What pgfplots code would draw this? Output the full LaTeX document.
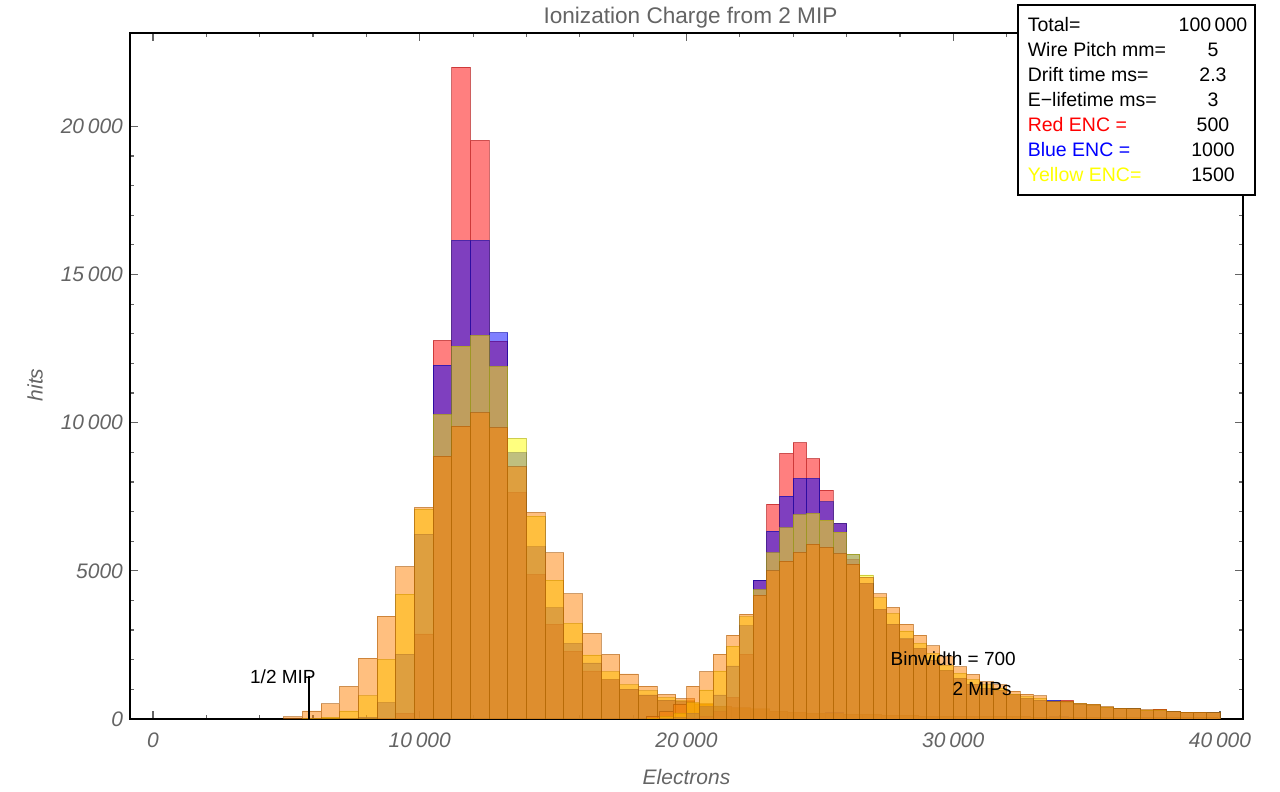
\documentclass[border=0pt]{standalone}
\usepackage{pgfplots}
\pgfplotsset{compat=1.18}
\usepackage{fontspec}
\setmainfont{Liberation Sans}
\definecolor{tickgray}{RGB}{100,100,100}
\definecolor{hred}{RGB}{255,0,0}
\definecolor{hblue}{RGB}{0,0,255}
\definecolor{hyellow}{RGB}{255,255,0}
\definecolor{horange}{RGB}{255,128,0}
\newcommand{\ts}{\hspace{0.18em}}
\begin{document}
\begin{tikzpicture}
\useasboundingbox (0pt,0pt) rectangle (640pt,396pt);
\begin{axis}[
  at={(65pt,36.5pt)}, anchor=south west,
  scale only axis, width=556.5pt, height=343pt,
  xmin=-862, xmax=40862, ymin=0, ymax=23150,
  scaled ticks=false,
  axis line style={black, line width=0.9pt},
  every tick/.style={tickgray, line width=0.6pt},
  major tick length=3.8pt, minor tick length=2.2pt,
  tick align=inside,
  xtick={0,10000,20000,30000,40000},
  xticklabels={0,10\ts000,20\ts000,30\ts000,40\ts000},
  minor x tick num=4,
  ytick={0,5000,10000,15000,20000},
  yticklabels={0,5000,10\ts000,15\ts000,20\ts000},
  minor y tick num=4,
  ticklabel style={font=\fontsize{10.5}{12}\selectfont\itshape, text=tickgray},
  xticklabel style={anchor=center, yshift=-10.5pt},
  xlabel={Electrons}, ylabel={hits},
  every axis x label/.style={at={(axis description cs:0.5,0)}, anchor=center, yshift=-29pt, font=\fontsize{10.5}{12}\selectfont\itshape, text=tickgray},
  every axis y label/.style={at={(axis description cs:0,0.5)}, anchor=center, xshift=-47.5pt, yshift=-4.5pt, rotate=90, font=\fontsize{10.5}{12}\selectfont\itshape, text=tickgray},
  title={Ionization Charge from 2 MIP},
  every axis title/.style={at={(axis description cs:0.5,1)}, anchor=center, xshift=2pt, yshift=7.5pt, font=\fontsize{11.3}{13}\selectfont, text=tickgray},
  hist/.style={ybar interval, fill=#1, fill opacity=0.5, draw=#1!65!black, draw opacity=0.55, line width=0.45pt},
]
% ---- 1 MIP histograms, binwidth 700 ----
\addplot[hist=hred] coordinates {(8400,20)(9100,190)(9800,2870)(10500,12780)(11200,22000)(11900,19530)(12600,12750)(13300,7650)(14000,4880)(14700,3200)(15400,2290)(16100,1620)(16800,1320)(17500,1010)(18200,810)(18900,640)(19600,580)(20300,480)(21000,420)(21700,360)(22400,320)(23100,270)(23800,220)(24500,190)(25200,200)(25900,160)(26600,150)(27300,120)(28000,120)(28700,100)(29400,90)(30100,80)(30800,80)(31500,70)(32200,70)(32900,60)(33600,60)(34300,60)(35000,50)(35700,50)(36400,50)(37100,40)(37800,40)(38500,40)(39200,40)(39900,0)};
\addplot[hist=hblue] coordinates {(7000,10)(7700,60)(8400,550)(9100,2190)(9800,6240)(10500,11940)(11200,16150)(11900,16150)(12600,13040)(13300,8980)(14000,5810)(14700,3750)(15400,2550)(16100,1890)(16800,1320)(17500,1010)(18200,810)(18900,640)(19600,580)(20300,480)(21000,420)(21700,360)(22400,330)(23100,260)(23800,220)(24500,190)(25200,230)(25900,160)(26600,150)(27300,120)(28000,110)(28700,100)(29400,90)(30100,80)(30800,80)(31500,70)(32200,70)(32900,60)(33600,70)(34300,60)(35000,50)(35700,50)(36400,50)(37100,40)(37800,40)(38500,40)(39200,40)(39900,0)};
\addplot[hist=hyellow] coordinates {(5600,10)(6300,60)(7000,270)(7700,780)(8400,2010)(9100,4210)(9800,7080)(10500,10280)(11200,12580)(11900,12950)(12600,11900)(13300,9470)(14000,6850)(14700,4690)(15400,3230)(16100,2160)(16800,1590)(17500,1150)(18200,950)(18900,720)(19600,610)(20300,500)(21000,430)(21700,370)(22400,330)(23100,260)(23800,230)(24500,190)(25200,200)(25900,160)(26600,160)(27300,120)(28000,110)(28700,100)(29400,90)(30100,80)(30800,80)(31500,70)(32200,70)(32900,60)(33600,60)(34300,60)(35000,50)(35700,50)(36400,50)(37100,40)(37800,40)(38500,40)(39200,40)(39900,0)};
\addplot[hist=horange] coordinates {(4900,70)(5600,270)(6300,510)(7000,1100)(7700,2050)(8400,3470)(9100,5140)(9800,7140)(10500,8870)(11200,9880)(11900,10340)(12600,9830)(13300,8510)(14000,6970)(14700,5610)(15400,4220)(16100,2890)(16800,2180)(17500,1520)(18200,1110)(18900,830)(19600,690)(20300,510)(21000,440)(21700,380)(22400,340)(23100,260)(23800,220)(24500,190)(25200,200)(25900,160)(26600,150)(27300,120)(28000,120)(28700,100)(29400,90)(30100,80)(30800,80)(31500,70)(32200,70)(32900,60)(33600,60)(34300,60)(35000,50)(35700,50)(36400,50)(37100,40)(37800,40)(38500,40)(39200,40)(39900,0)};
% ---- 2 MIP histograms, binwidth 500 ----
\addplot[hist=hred] coordinates {(20000,20)(20500,80)(21000,250)(21500,730)(22000,2190)(22500,4690)(23000,7250)(23500,8960)(24000,9330)(24500,8790)(25000,7720)(25500,6590)(26000,5390)(26500,4580)(27000,3700)(27500,3200)(28000,2690)(28500,2380)(29000,1990)(29500,1630)(30000,1370)(30500,1180)(31000,1040)(31500,950)(32000,840)(32500,700)(33000,640)(33500,580)(34000,630)(34500,500)(35000,450)(35500,400)(36000,360)(36500,340)(37000,300)(37500,330)(38000,250)(38500,230)(39000,220)(39500,210)(40000,0)};
\addplot[hist=hblue] coordinates {(19000,10)(19500,50)(20000,200)(20500,420)(21000,810)(21500,1790)(22000,3140)(22500,4690)(23000,6340)(23500,7520)(24000,8120)(24500,8120)(25000,7330)(25500,6590)(26000,5560)(26500,4580)(27000,3700)(27500,3200)(28000,2720)(28500,2380)(29000,1990)(29500,1630)(30000,1370)(30500,1180)(31000,1040)(31500,950)(32000,840)(32500,700)(33000,640)(33500,640)(34000,550)(34500,500)(35000,450)(35500,400)(36000,360)(36500,340)(37000,280)(37500,300)(38000,250)(38500,230)(39000,220)(39500,210)(40000,0)};
\addplot[hist=hyellow] coordinates {(18500,20)(19000,80)(19500,200)(20000,550)(20500,980)(21000,1620)(21500,2460)(22000,3450)(22500,4370)(23000,5610)(23500,6450)(24000,6900)(24500,6940)(25000,6710)(25500,6310)(26000,5560)(26500,4860)(27000,4090)(27500,3560)(28000,2970)(28500,2550)(29000,2210)(29500,1800)(30000,1540)(30500,1320)(31000,1150)(31500,1040)(32000,840)(32500,750)(33000,700)(33500,580)(34000,580)(34500,520)(35000,480)(35500,400)(36000,360)(36500,340)(37000,300)(37500,300)(38000,250)(38500,230)(39000,220)(39500,210)(40000,0)};
\addplot[hist=horange] coordinates {(18500,100)(19000,250)(19500,500)(20000,1110)(20500,1600)(21000,2190)(21500,2830)(22000,3540)(22500,4180)(23000,5000)(23500,5330)(24000,5620)(24500,5900)(25000,5790)(25500,5580)(26000,5230)(26500,4780)(27000,4220)(27500,3770)(28000,3200)(28500,2830)(29000,2470)(29500,2100)(30000,1760)(30500,1510)(31000,1260)(31500,1150)(32000,940)(32500,840)(33000,780)(33500,580)(34000,600)(34500,530)(35000,500)(35500,420)(36000,360)(36500,340)(37000,310)(37500,330)(38000,250)(38500,230)(39000,230)(39500,210)(40000,0)};
% ---- annotations ----
\draw[black, line width=0.9pt] (axis cs:5850,0) -- (axis cs:5850,1450);
\node[font=\fontsize{9.5}{11}\selectfont, black, anchor=base] at (axis cs:4870,1200) {1/2 MIP};
\node[font=\fontsize{9.5}{11}\selectfont, black, anchor=base] at (axis cs:30000,1800) {Binwidth = 700};
\node[font=\fontsize{9.5}{11}\selectfont, black, anchor=base] at (axis cs:31080,800) {2 MIPs};
\end{axis}
% ---- info box ----
\draw[black, line width=0.75pt, fill=white] (509pt,298.5pt) rectangle (627.5pt,393.5pt);
\begin{scope}[every node/.style={font=\fontsize{9.75}{11}\selectfont, inner sep=0pt}]
\node[anchor=base west] at (513.7pt,380pt) {Total=};
\node[anchor=base west] at (513.7pt,367.5pt) {Wire Pitch mm=};
\node[anchor=base west] at (513.7pt,355pt) {Drift time ms=};
\node[anchor=base west] at (513.7pt,342.5pt) {E−lifetime ms=};
\node[anchor=base west, text=hred] at (513.7pt,330pt) {Red ENC =};
\node[anchor=base west, text=hblue] at (513.7pt,317.5pt) {Blue ENC =};
\node[anchor=base west, text=hyellow] at (513.7pt,305pt) {Yellow ENC=};
\node[anchor=base] at (606.5pt,380pt) {100\ts000};
\node[anchor=base] at (606.5pt,367.5pt) {5};
\node[anchor=base] at (606.5pt,355pt) {2.3};
\node[anchor=base] at (606.5pt,342.5pt) {3};
\node[anchor=base] at (606.5pt,330pt) {500};
\node[anchor=base] at (606.5pt,317.5pt) {1000};
\node[anchor=base] at (606.5pt,305pt) {1500};
\end{scope}
\end{tikzpicture}
\end{document}
